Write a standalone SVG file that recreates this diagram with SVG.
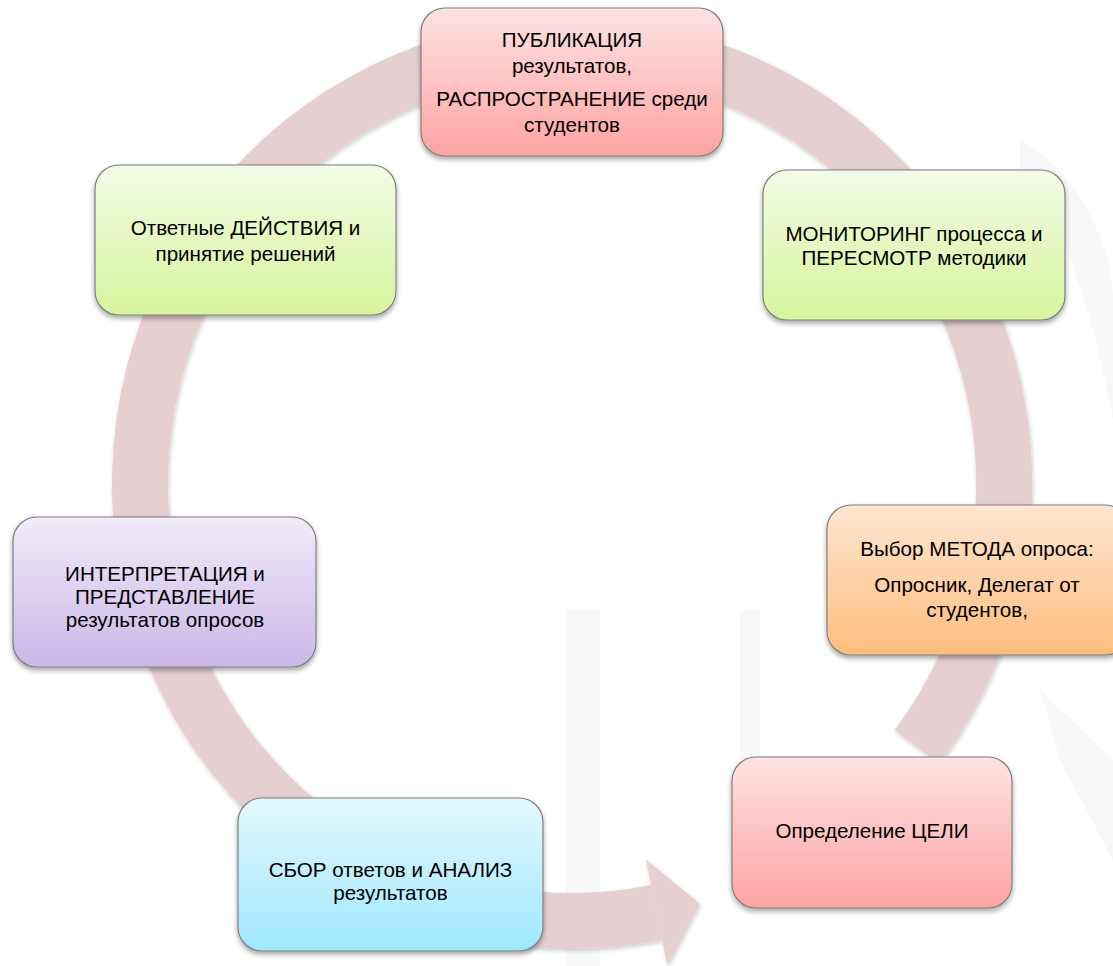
<svg xmlns="http://www.w3.org/2000/svg" width="1113" height="966" viewBox="0 0 1113 966">
<defs>
<linearGradient id="gPink" x1="0" y1="0" x2="0" y2="1"><stop offset="0" stop-color="#fde3e3"/><stop offset="1" stop-color="#ffa3a3"/></linearGradient>
<linearGradient id="gGreen" x1="0" y1="0" x2="0" y2="1"><stop offset="0" stop-color="#f3fbe6"/><stop offset="1" stop-color="#d6f59c"/></linearGradient>
<linearGradient id="gOrange" x1="0" y1="0" x2="0" y2="1"><stop offset="0" stop-color="#fee6d2"/><stop offset="1" stop-color="#ffbd7d"/></linearGradient>
<linearGradient id="gPurple" x1="0" y1="0" x2="0" y2="1"><stop offset="0" stop-color="#f1ebf9"/><stop offset="1" stop-color="#cab7e8"/></linearGradient>
<linearGradient id="gBlue" x1="0" y1="0" x2="0" y2="1"><stop offset="0" stop-color="#e4f8fe"/><stop offset="1" stop-color="#9fe7fe"/></linearGradient>
<filter id="sh" x="-10%" y="-10%" width="120%" height="130%"><feDropShadow dx="0" dy="3" stdDeviation="2.5" flood-color="#000" flood-opacity="0.35"/></filter>
<filter id="shb" x="-10%" y="-10%" width="120%" height="120%"><feDropShadow dx="1" dy="2" stdDeviation="2" flood-color="#000" flood-opacity="0.2"/></filter>
</defs>
<style>
.box{stroke:#7f7f7f;stroke-width:1.2;filter:url(#sh)}
.t{font-family:"Liberation Sans",Arial,sans-serif;font-size:20.6px;fill:#000;text-anchor:middle}
.wm{fill:#f8f8f8}
</style>
<rect width="1113" height="966" fill="#fff"/>
<g id="watermark">
<rect class="wm" x="566" y="610" width="34" height="356"/>
<rect class="wm" x="740" y="610" width="20" height="150"/>
<path class="wm" d="M1020,140 C1090,180 1113,260 1113,300 L1113,420 C1100,350 1070,220 1020,170 Z"/>
<path class="wm" d="M1040,690 L1113,760 L1113,860 L1060,760 Z"/>
</g>
<g id="connectors">
<g filter="url(#shb)">
<path d="M917,747 A432,437 0 1 0 656.7,912.5" fill="none" stroke="#e6cfd1" stroke-width="56"/>
<polygon points="646,859.6 699.8,903.8 667.4,965.4" fill="#e6cfd1"/>
</g>
</g>
<g id="n-publication">
<rect class="box" x="421" y="8" width="302" height="148" rx="24" fill="url(#gPink)"/>
<text class="t" x="572" y="47">ПУБЛИКАЦИЯ</text>
<text class="t" x="572" y="73">результатов,</text>
<text class="t" x="572" y="106">РАСПРОСТРАНЕНИЕ среди</text>
<text class="t" x="572" y="132">студентов</text>
</g>
<g id="n-monitoring">
<rect class="box" x="763" y="170" width="302" height="150" rx="24" fill="url(#gGreen)"/>
<text class="t" x="914" y="241">МОНИТОРИНГ процесса и</text>
<text class="t" x="914" y="265">ПЕРЕСМОТР методики</text>
</g>
<g id="n-method">
<rect class="box" x="827" y="505" width="302" height="150" rx="24" fill="url(#gOrange)"/>
<text class="t" x="977" y="556">Выбор МЕТОДА опроса:</text>
<text class="t" x="977" y="592">Опросник, Делегат от</text>
<text class="t" x="977" y="617">студентов,</text>
</g>
<g id="n-goal">
<rect class="box" x="732" y="757" width="280" height="151" rx="24" fill="url(#gPink)"/>
<text class="t" x="872" y="838">Определение ЦЕЛИ</text>
</g>
<g id="n-collect">
<rect class="box" x="238" y="798" width="305" height="153" rx="24" fill="url(#gBlue)"/>
<text class="t" x="390.5" y="877">СБОР ответов и АНАЛИЗ</text>
<text class="t" x="390.5" y="900">результатов</text>
</g>
<g id="n-interpret">
<rect class="box" x="13" y="517" width="303" height="150" rx="24" fill="url(#gPurple)"/>
<text class="t" x="165" y="581">ИНТЕРПРЕТАЦИЯ и</text>
<text class="t" x="165" y="604">ПРЕДСТАВЛЕНИЕ</text>
<text class="t" x="165" y="627">результатов опросов</text>
</g>
<g id="n-action">
<rect class="box" x="95" y="165" width="301" height="150" rx="24" fill="url(#gGreen)"/>
<text class="t" x="245.5" y="235">Ответные ДЕЙСТВИЯ и</text>
<text class="t" x="245.5" y="261">принятие решений</text>
</g>
</svg>
